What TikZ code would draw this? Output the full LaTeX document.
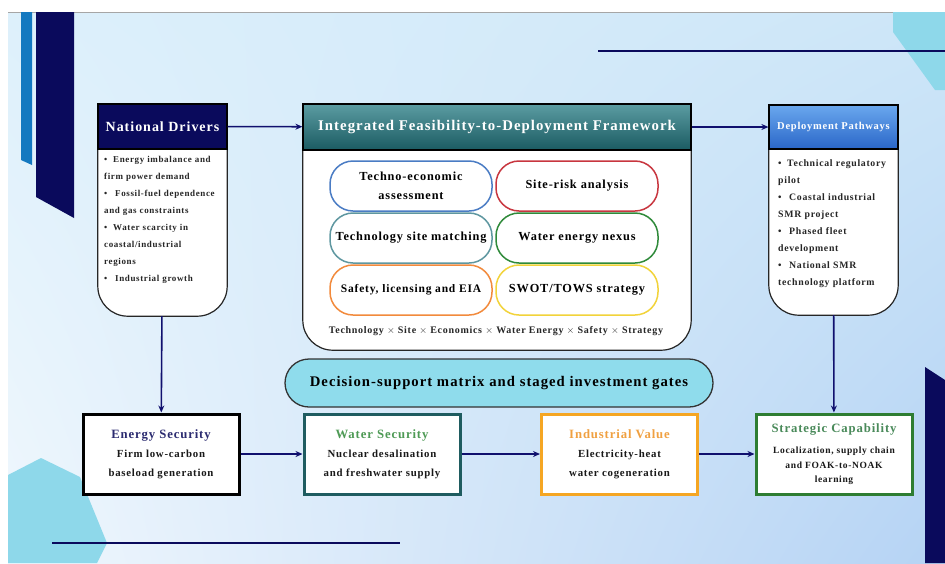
\documentclass[tikz,border=0pt]{standalone}
\usepackage{fontspec}
\setmainfont{Liberation Serif}[LetterSpace=7]
\usetikzlibrary{arrows.meta,shadings}
\def\leftbar{(21,-12) -- (32,-12) -- (32,-165) -- (21,-160) -- cycle}
\def\navybar{(36,-12) -- (74,-12) -- (74,-218) -- (36,-197) -- cycle}
\def\tophex{(893,-12) -- (893,-32) -- (935,-90) -- (945,-90) -- (945,-12) -- cycle}
\def\lowhex{(8,-475) -- (41,-458) -- (80,-477) -- (107,-543) -- (97,-563) -- (8,-563) -- cycle}
\def\cornerbar{(925,-367) -- (945,-380) -- (945,-563) -- (925,-563) -- cycle}
\definecolor{navy}{HTML}{0A0A5C}
\definecolor{linkc}{HTML}{10106E}
\definecolor{skyblue}{HTML}{1479C0}
\definecolor{cyandeco}{HTML}{8ED8EA}
\definecolor{gatec}{HTML}{8FDCEC}
\definecolor{bgul}{HTML}{DDF0FB}
\definecolor{bgur}{HTML}{CDE6F8}
\definecolor{bgll}{HTML}{F0F7FD}
\definecolor{bglr}{HTML}{B5D3F4}
\definecolor{fwtop}{HTML}{5B9CA2}
\definecolor{fwbot}{HTML}{1B5B62}
\definecolor{deptop}{HTML}{6AA8EE}
\definecolor{depbot}{HTML}{2A66C8}
\definecolor{pblue}{HTML}{4A7CC4}
\definecolor{pred}{HTML}{C8363F}
\definecolor{pteal}{HTML}{5E97A0}
\definecolor{pgreen}{HTML}{2F8A3A}
\definecolor{porange}{HTML}{F28A3C}
\definecolor{pyellow}{HTML}{F2D33A}
\definecolor{watc}{HTML}{1F5C60}
\definecolor{watt}{HTML}{4E9A55}
\definecolor{indc}{HTML}{F5A623}
\definecolor{indt}{HTML}{F0A040}
\definecolor{strc}{HTML}{2E7D32}
\definecolor{strt}{HTML}{4A8A5A}
\definecolor{enet}{HTML}{2B2B70}
\newcommand\itm[2][0pt]{\par\hangindent=9pt\hangafter=1\noindent\makebox[9pt][l]{\textbullet}\hspace{#1}#2}
\tikzset{head/.style={draw=black, line width=1.2pt, minimum width=129pt, minimum height=45pt, text=white, font=\bfseries\fontsize{14}{16}\selectfont},
	cup/.style={fill=white, draw=black!85, line width=1.2pt, rounded corners=30pt},
	pill/.style={draw, fill=white, line width=1.5pt, rounded corners=23pt, minimum width=162pt, minimum height=50pt, align=center, font=\bfseries\fontsize{12.3}{19}\selectfont},
	goal/.style={draw, fill=white, line width=3pt, minimum width=156pt, minimum height=80pt, align=center, text=black!90, font=\bfseries\fontsize{10.8}{19}\selectfont},
	bullets/.style={anchor=north west, inner sep=0pt, align=left, text=black!85, font=\bfseries\fontsize{9}{17}\selectfont},
	link/.style={draw=linkc, line width=1.6pt, -{Stealth[length=7pt,width=6pt]}}}

\begin{document}
\begin{tikzpicture}[x=1pt, y=1pt]
		\useasboundingbox (0,0) rectangle (945,-563);
		% backdrop and corner decoration
		\fill[white] (0,0) rectangle (945,-563);
		\shade[upper left=bgul, upper right=bgur, lower left=bgll, lower right=bglr] (8,-12) rectangle (945,-563);
		\draw[gray!70, line width=0.8pt] (8,-12) -- (945,-12);
		\fill[cyandeco] \tophex;
		\fill[cyandeco] \lowhex;
		\fill[navy] \cornerbar;
		\fill[skyblue] \leftbar;
		\fill[navy] \navybar;
		\draw[navy, line width=2pt] (598,-51) -- (945,-51);
		\draw[navy, line width=2pt] (52,-543) -- (400,-543);
		
		% national drivers
		\node[minimum width=129pt, minimum height=167pt, inner sep=0pt] (drvbody) at (162.5,-232.5) {};
		\draw[cup] (drvbody.north west) -- (drvbody.south west) -- (drvbody.south east) -- (drvbody.north east);
		\node[head, fill=navy] (drvhead) at (162.5,-126.5) {National Drivers};
		\node[bullets, text width=122pt] (drvlist) at (104,-145) {%
			\itm{Energy imbalance and\\firm power demand}
			\itm[2pt]{Fossil-fuel dependence\\and gas constraints}
			\itm{Water scarcity in\\coastal/industrial\\regions}
			\itm[2pt]{Industrial growth}};
		
		% framework
		\node[minimum width=388pt, minimum height=200pt, inner sep=0pt] (fwbody) at (497,-250) {};
		\draw[cup] (fwbody.north west) -- (fwbody.south west) -- (fwbody.south east) -- (fwbody.north east);
		\node[head, minimum width=388pt, minimum height=46pt, top color=fwtop, bottom color=fwbot, font=\bfseries\fontsize{14.8}{17}\selectfont] (fwhead) at (497,-127) {Integrated Feasibility-to-Deployment Framework};
		\node[pill, draw=pblue] (tea) at (411,-186) {Techno-economic\\assessment};
		\node[pill, draw=pred] (risk) at (577,-186) {Site-risk analysis};
		\node[pill, draw=pteal] (match) at (411,-238) {Technology site matching};
		\node[pill, draw=pgreen] (nexus) at (577,-238) {Water energy nexus};
		\node[pill, draw=porange, font=\bfseries\fontsize{11.5}{19}\selectfont] (eia) at (411,-290) {Safety, licensing and EIA};
		\node[pill, draw=pyellow] (swot) at (577,-290) {SWOT/TOWS strategy};
		\node[font=\bfseries\fontsize{10}{12}\selectfont, text=black!85] (dims) at (496,-331) {Technology $\times$ Site $\times$ Economics $\times$ Water Energy $\times$ Safety $\times$ Strategy};
		
		% deployment pathways
		\node[minimum width=129pt, minimum height=166pt, inner sep=0pt] (depbody) at (833.5,-232) {};
		\draw[cup] (depbody.north west) -- (depbody.south west) -- (depbody.south east) -- (depbody.north east);
		\node[head, minimum height=44pt, top color=deptop, bottom color=depbot, font=\bfseries\fontsize{10.5}{13}\selectfont] (dephead) at (833.5,-127) {Deployment Pathways};
		\node[bullets, text width=122pt, font=\bfseries\fontsize{9.8}{17}\selectfont] (deplist) at (778,-149.5) {%
			\itm{Technical regulatory\\pilot}
			\itm[2pt]{Coastal industrial\\SMR project}
			\itm[2pt]{Phased fleet\\development}
			\itm[2pt]{National SMR\\technology platform}};
		
		\node[draw=black!80, fill=gatec, line width=1.3pt, rounded corners=24pt, minimum width=428pt, minimum height=48pt, font=\bfseries\fontsize{14.7}{17}\selectfont] (gates) at (499,-383) {Decision-support matrix and staged investment gates};
		
		% outcome boxes
		\node[goal, draw=black] (energy) at (161,-454) {{\color{enet}\fontsize{12.7}{15}\selectfont Energy Security}\\Firm low-carbon\\baseload generation};
		\node[goal, draw=watc] (water) at (382,-454) {{\color{watt}\fontsize{12.7}{15}\selectfont Water Security}\\Nuclear desalination\\and freshwater supply};
		\node[goal, draw=indc] (industry) at (619.5,-454) {{\color{indt}\fontsize{12.7}{15}\selectfont Industrial Value}\\Electricity-heat\\water cogeneration};
		\node[goal, draw=strc, font=\bfseries\fontsize{9.5}{14.5}\selectfont] (strategy) at (834,-454) {{\color{strt}\fontsize{12.7}{20}\selectfont Strategic Capability}\\[7pt]Localization, supply chain\\and FOAK-to-NOAK\\learning};
		
		\draw[link] (drvhead) -- (fwhead);
		\draw[link] (fwhead) -- (dephead);
		\draw[link] (drvbody) -- (energy);
		\draw[link] (depbody) -- (strategy);
		\draw[link] (energy) -- (water);
		\draw[link] (water) -- (industry);
		\draw[link] (industry) -- (strategy);
		\end{tikzpicture}
\end{document}
